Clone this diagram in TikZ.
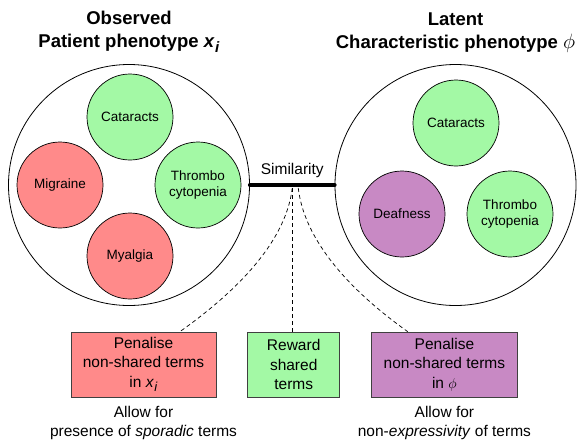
\documentclass[tikz,border=0pt]{standalone}
\usepackage{fontspec}
\setmainfont{Liberation Sans}
\usetikzlibrary{positioning,calc}
\definecolor{termred}{HTML}{FF8A8A}
\definecolor{termgreen}{HTML}{A3F9A5}
\definecolor{termpurple}{HTML}{C889C4}
\newcommand{\xsub}[2]{\textit{x}\kern0.3pt\raisebox{-#2}{\fontsize{#1}{#1}\selectfont\textit{i}}}

\begin{document}
\begin{tikzpicture}[
  x=1pt, y=-1pt,
  font=\fontsize{15.5}{19.5}\selectfont,
  phen/.style={draw, circle, line width=0.8pt, minimum size=241pt, inner sep=0pt},
  term/.style={draw, circle, line width=0.7pt, minimum size=86pt, inner sep=0pt, align=center, font=\fontsize{13.5}{16}\selectfont},
  shared/.style={term, fill=termgreen},
  obsonly/.style={term, fill=termred},
  latonly/.style={term, fill=termpurple},
  title/.style={align=center, font=\bfseries\fontsize{18.5}{23}\selectfont},
  box/.style={draw=black!75, line width=0.7pt, align=center, minimum height=65pt, inner sep=2pt},
  note/.style={align=center},
  link/.style={dash pattern=on 4pt off 3pt, line width=0.7pt}
]
\useasboundingbox (0,0) rectangle (581,440);
% the two phenotypes
\node[phen] (obs) at (129,185) {};
\node[phen] (lat) at (455.5,185) {};
\node[title, above=8pt of obs] (obstitle) {Observed\\Patient phenotype \xsub{15}{5.5pt}};
\node[title, above=8pt of lat] (lattitle) {Latent\\Characteristic phenotype {\fontsize{20.7}{23}\selectfont$\phi$}};
% terms
\node[shared] (cat1) at (130,117) {Cataracts};
\node[obsonly] (mig) at (60,185) {Migraine};
\node[shared] (thr1) at (198,185) {Thrombo\\cytopenia};
\node[obsonly] (mya) at (130,256) {Myalgia};
\node[shared] (cat2) at (456,123) {Cataracts};
\node[latonly] (deaf) at (402,214) {Deafness};
\node[shared] (thr2) at (510,214) {Thrombo\\cytopenia};
% similarity
\draw[line width=4pt, line cap=round] (obs.east) -- node[above=2pt] (simlab) {Similarity} (lat.west);
% score terms
\node[box, fill=termred, minimum width=145pt] (penobs) at (143.5,364.5) {Penalise\\non-shared terms\\in \xsub{13}{4.5pt}};
\node[box, fill=termgreen, minimum width=92pt, right=31pt of penobs] (reward) {Reward\\shared\\terms};
\node[box, fill=termpurple, minimum width=146pt, right=31pt of reward] (penlat) {Penalise\\non-shared terms\\in $\phi$};
\node[note, below=5pt of penobs] (sporadic) {Allow for\\presence of \textit{sporadic} terms};
\node[note, below=5pt of penlat] (express) {Allow for\\non-\textit{expressivity} of terms};
% dashed links
\coordinate (split) at ($(obs.east)!0.5!(lat.west)+(0,3)$);
\coordinate (splitr) at ($(split)+(6,0)$);
\draw[link] (split) .. controls +(-7,60) and +(45,-32) .. ($(penobs.north west)!0.75!(penobs.north east)$);
\draw[link] (split) -- (split |- reward.north);
\draw[link] (splitr) .. controls +(7,60) and +(-45,-32) .. ($(penlat.north west)!0.25!(penlat.north east)$);
\end{tikzpicture}
\end{document}
